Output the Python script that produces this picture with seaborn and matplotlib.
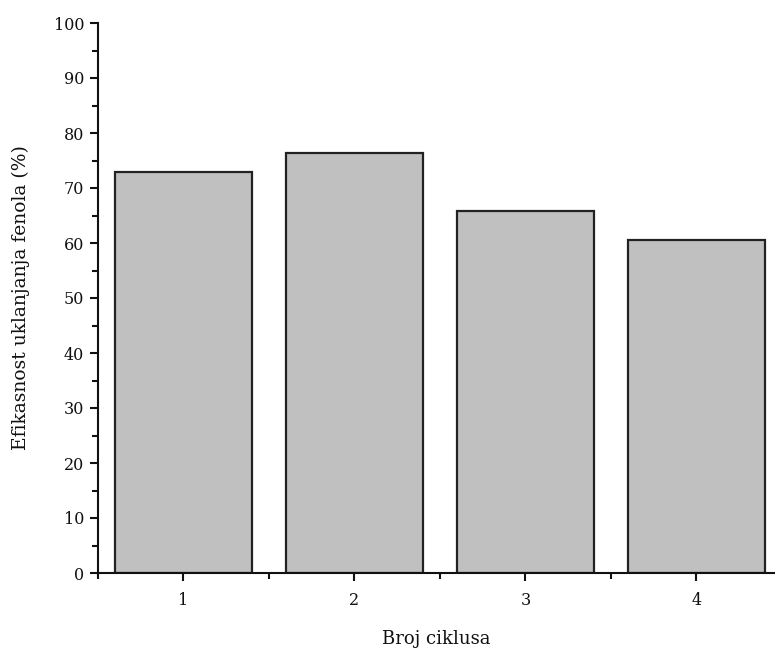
import matplotlib
matplotlib.use("Agg")
import matplotlib.pyplot as plt
import seaborn as sns
import pandas as pd
from matplotlib.ticker import MultipleLocator

cycles = [1, 2, 3, 4]
efficiency = [73.0, 76.4, 65.9, 60.6]

sns.set_theme(style="ticks")
plt.rcParams['font.family'] = ['DejaVu Serif']

df = pd.DataFrame({"cycle": cycles, "eff": efficiency})

fig = plt.figure(figsize=(7.75, 6.55), dpi=100)
ax = fig.add_axes([98/775, 1-573/655, 1-98/775, (573-23)/655])

sns.barplot(data=df, x="cycle", y="eff", native_scale=True, width=0.8,
            color="#c0c0c0", saturation=1, edgecolor="#222222", linewidth=1.6, ax=ax)

ax.set_xlim(0.5, 4.46)
ax.set_ylim(0, 100)
ax.set_xticks(cycles)
ax.set_xticklabels([str(c) for c in cycles])
ax.xaxis.set_minor_locator(MultipleLocator(0.5))
ax.yaxis.set_major_locator(MultipleLocator(10))
ax.yaxis.set_minor_locator(MultipleLocator(5))
for s in ["top", "right"]:
    ax.spines[s].set_visible(False)
for s in ["left", "bottom"]:
    ax.spines[s].set_linewidth(1.5)
    ax.spines[s].set_color("#111111")
ax.tick_params(which="major", direction="out", length=6, width=1.5, labelsize=11.5, colors="#111111", pad=4)
ax.tick_params(which="minor", direction="out", length=4, width=1.5, colors="#111111")
ax.tick_params(axis="x", pad=8)

ax.set_xlabel("Broj ciklusa", fontsize=13, labelpad=15, color="#111111")
ax.set_ylabel("Efikasnost uklanjanja fenola (%)", fontsize=13.5, labelpad=17, color="#111111")

fig.savefig("out.png", dpi=100)
